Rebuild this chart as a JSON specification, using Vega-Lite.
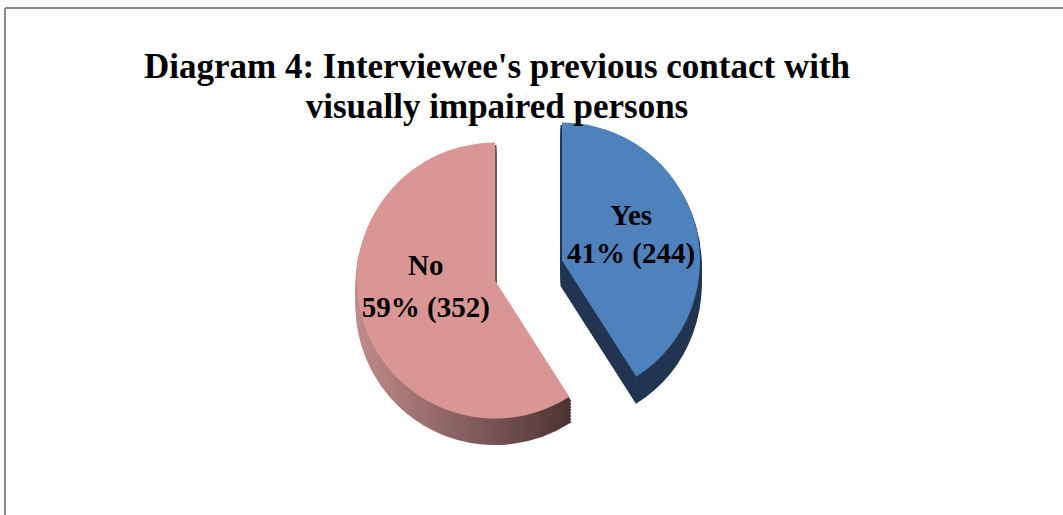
{
  "$schema": "https://vega.github.io/schema/vega-lite/v6.json",
  "autosize": "none",
  "width": 1058,
  "height": 507,
  "padding": {"left": 5, "top": 8, "right": 0, "bottom": 0},
  "background": "white",
  "config": {"view": {"stroke": null}},
  "title": {
    "text": ["Diagram 4: Interviewee's previous contact with", "visually impaired persons"],
    "font": "Liberation Serif",
    "fontSize": 35,
    "fontWeight": "bold",
    "color": "#000000",
    "lineHeight": 40,
    "anchor": "middle",
    "dx": -37,
    "offset": -118
  },
  "data": {
    "values": [
      {"answer": "Yes", "count": 244, "pct": "41%"},
      {"answer": "No", "count": 352, "pct": "59%"}
    ]
  },
  "transform": [
    {"stack": "count", "groupby": [], "sort": [{"field": "answer", "order": "descending"}], "as": ["c0", "c1"]},
    {"calculate": "(datum.c0 + datum.c1) / 2", "as": "mid"},
    {"calculate": "[datum.answer, datum.pct + ' (' + datum.count + ')']", "as": "label"}
  ],
  "layer": [
    {
      "transform": [{"filter": "datum.answer === 'Yes'"}],
      "mark": {"type": "rule", "stroke": "#8a8a8a", "strokeWidth": 2},
      "encoding": {"x": {"datum": 0, "type": "quantitative", "scale": {"domain": [0, 1]}, "axis": null}}
    },
    {
      "transform": [{"filter": "datum.answer === 'Yes'"}],
      "mark": {"type": "rule", "stroke": "#8a8a8a", "strokeWidth": 2},
      "encoding": {"y": {"datum": 1, "type": "quantitative", "scale": {"domain": [0, 1]}, "axis": null}}
    },
    {
      "transform": [{"filter": "datum.answer === 'No'"}],
      "encoding": {
        "theta": {"field": "c0", "type": "quantitative", "scale": {"domain": [0, 596]}},
        "theta2": {"field": "c1"}
      },
      "layer": [
        {"mark": {"type": "arc", "outerRadius": 138, "xOffset": -39, "yOffset": 44, "strokeWidth": 3, "color": {"gradient": "linear", "x1": 0, "y1": 0, "x2": 1, "y2": 0, "stops": [{"offset": 0, "color": "#c08b8a"}, {"offset": 1, "color": "#4d3434"}]}, "stroke": {"gradient": "linear", "x1": 0, "y1": 0, "x2": 1, "y2": 0, "stops": [{"offset": 0, "color": "#c08b8a"}, {"offset": 1, "color": "#4d3434"}]}}},
        {"mark": {"type": "arc", "outerRadius": 138, "xOffset": -39, "yOffset": 41, "strokeWidth": 3, "color": {"gradient": "linear", "x1": 0, "y1": 0, "x2": 1, "y2": 0, "stops": [{"offset": 0, "color": "#c08b8a"}, {"offset": 1, "color": "#4d3434"}]}, "stroke": {"gradient": "linear", "x1": 0, "y1": 0, "x2": 1, "y2": 0, "stops": [{"offset": 0, "color": "#c08b8a"}, {"offset": 1, "color": "#4d3434"}]}}},
        {"mark": {"type": "arc", "outerRadius": 138, "xOffset": -39, "yOffset": 38, "strokeWidth": 3, "color": {"gradient": "linear", "x1": 0, "y1": 0, "x2": 1, "y2": 0, "stops": [{"offset": 0, "color": "#c08b8a"}, {"offset": 1, "color": "#4d3434"}]}, "stroke": {"gradient": "linear", "x1": 0, "y1": 0, "x2": 1, "y2": 0, "stops": [{"offset": 0, "color": "#c08b8a"}, {"offset": 1, "color": "#4d3434"}]}}},
        {"mark": {"type": "arc", "outerRadius": 138, "xOffset": -39, "yOffset": 35, "strokeWidth": 3, "color": {"gradient": "linear", "x1": 0, "y1": 0, "x2": 1, "y2": 0, "stops": [{"offset": 0, "color": "#c08b8a"}, {"offset": 1, "color": "#4d3434"}]}, "stroke": {"gradient": "linear", "x1": 0, "y1": 0, "x2": 1, "y2": 0, "stops": [{"offset": 0, "color": "#c08b8a"}, {"offset": 1, "color": "#4d3434"}]}}},
        {"mark": {"type": "arc", "outerRadius": 138, "xOffset": -39, "yOffset": 32, "strokeWidth": 3, "color": {"gradient": "linear", "x1": 0, "y1": 0, "x2": 1, "y2": 0, "stops": [{"offset": 0, "color": "#c08b8a"}, {"offset": 1, "color": "#4d3434"}]}, "stroke": {"gradient": "linear", "x1": 0, "y1": 0, "x2": 1, "y2": 0, "stops": [{"offset": 0, "color": "#c08b8a"}, {"offset": 1, "color": "#4d3434"}]}}},
        {"mark": {"type": "arc", "outerRadius": 138, "xOffset": -39, "yOffset": 29, "strokeWidth": 3, "color": {"gradient": "linear", "x1": 0, "y1": 0, "x2": 1, "y2": 0, "stops": [{"offset": 0, "color": "#c08b8a"}, {"offset": 1, "color": "#4d3434"}]}, "stroke": {"gradient": "linear", "x1": 0, "y1": 0, "x2": 1, "y2": 0, "stops": [{"offset": 0, "color": "#c08b8a"}, {"offset": 1, "color": "#4d3434"}]}}},
        {"mark": {"type": "arc", "outerRadius": 138, "xOffset": -39, "yOffset": 26, "strokeWidth": 3, "color": {"gradient": "linear", "x1": 0, "y1": 0, "x2": 1, "y2": 0, "stops": [{"offset": 0, "color": "#c08b8a"}, {"offset": 1, "color": "#4d3434"}]}, "stroke": {"gradient": "linear", "x1": 0, "y1": 0, "x2": 1, "y2": 0, "stops": [{"offset": 0, "color": "#c08b8a"}, {"offset": 1, "color": "#4d3434"}]}}},
        {"mark": {"type": "arc", "outerRadius": 138, "xOffset": -39, "yOffset": 23, "strokeWidth": 3, "color": {"gradient": "linear", "x1": 0, "y1": 0, "x2": 1, "y2": 0, "stops": [{"offset": 0, "color": "#c08b8a"}, {"offset": 1, "color": "#4d3434"}]}, "stroke": {"gradient": "linear", "x1": 0, "y1": 0, "x2": 1, "y2": 0, "stops": [{"offset": 0, "color": "#c08b8a"}, {"offset": 1, "color": "#4d3434"}]}}},
        {"mark": {"type": "arc", "outerRadius": 138, "xOffset": -39, "yOffset": 19, "color": "#d99694"}}
      ]
    },
    {
      "transform": [{"filter": "datum.answer === 'Yes'"}],
      "encoding": {
        "theta": {"field": "c0", "type": "quantitative", "scale": {"domain": [0, 596]}},
        "theta2": {"field": "c1"}
      },
      "layer": [
        {"mark": {"type": "arc", "outerRadius": 138, "xOffset": 28, "yOffset": 24, "strokeWidth": 3, "color": "#213551", "stroke": "#213551"}},
        {"mark": {"type": "arc", "outerRadius": 138, "xOffset": 28, "yOffset": 21, "strokeWidth": 3, "color": "#213551", "stroke": "#213551"}},
        {"mark": {"type": "arc", "outerRadius": 138, "xOffset": 28, "yOffset": 18, "strokeWidth": 3, "color": "#213551", "stroke": "#213551"}},
        {"mark": {"type": "arc", "outerRadius": 138, "xOffset": 28, "yOffset": 15, "strokeWidth": 3, "color": "#213551", "stroke": "#213551"}},
        {"mark": {"type": "arc", "outerRadius": 138, "xOffset": 28, "yOffset": 12, "strokeWidth": 3, "color": "#213551", "stroke": "#213551"}},
        {"mark": {"type": "arc", "outerRadius": 138, "xOffset": 28, "yOffset": 9, "strokeWidth": 3, "color": "#213551", "stroke": "#213551"}},
        {"mark": {"type": "arc", "outerRadius": 138, "xOffset": 28, "yOffset": 6, "strokeWidth": 3, "color": "#213551", "stroke": "#213551"}},
        {"mark": {"type": "arc", "outerRadius": 138, "xOffset": 28, "yOffset": 3, "strokeWidth": 3, "color": "#213551", "stroke": "#213551"}},
        {"mark": {"type": "arc", "outerRadius": 138, "xOffset": 28, "yOffset": -1, "color": "#4f81bd"}}
      ]
    },
    {
      "transform": [{"filter": "datum.answer === 'No'"}],
      "mark": {"type": "text", "radius": 70, "xOffset": -41, "yOffset": -15, "font": "Liberation Serif", "fontSize": 29, "fontWeight": "bold", "color": "#000000", "lineHeight": 42},
      "encoding": {
        "theta": {"field": "mid", "type": "quantitative", "scale": {"domain": [0, 596]}},
        "text": {"field": "label"}
      }
    },
    {
      "transform": [{"filter": "datum.answer === 'Yes'"}],
      "mark": {"type": "text", "radius": 72, "xOffset": 28, "yOffset": -25, "font": "Liberation Serif", "fontSize": 29, "fontWeight": "bold", "color": "#000000", "lineHeight": 38},
      "encoding": {
        "theta": {"field": "mid", "type": "quantitative", "scale": {"domain": [0, 596]}},
        "text": {"field": "label"}
      }
    }
  ]
}
